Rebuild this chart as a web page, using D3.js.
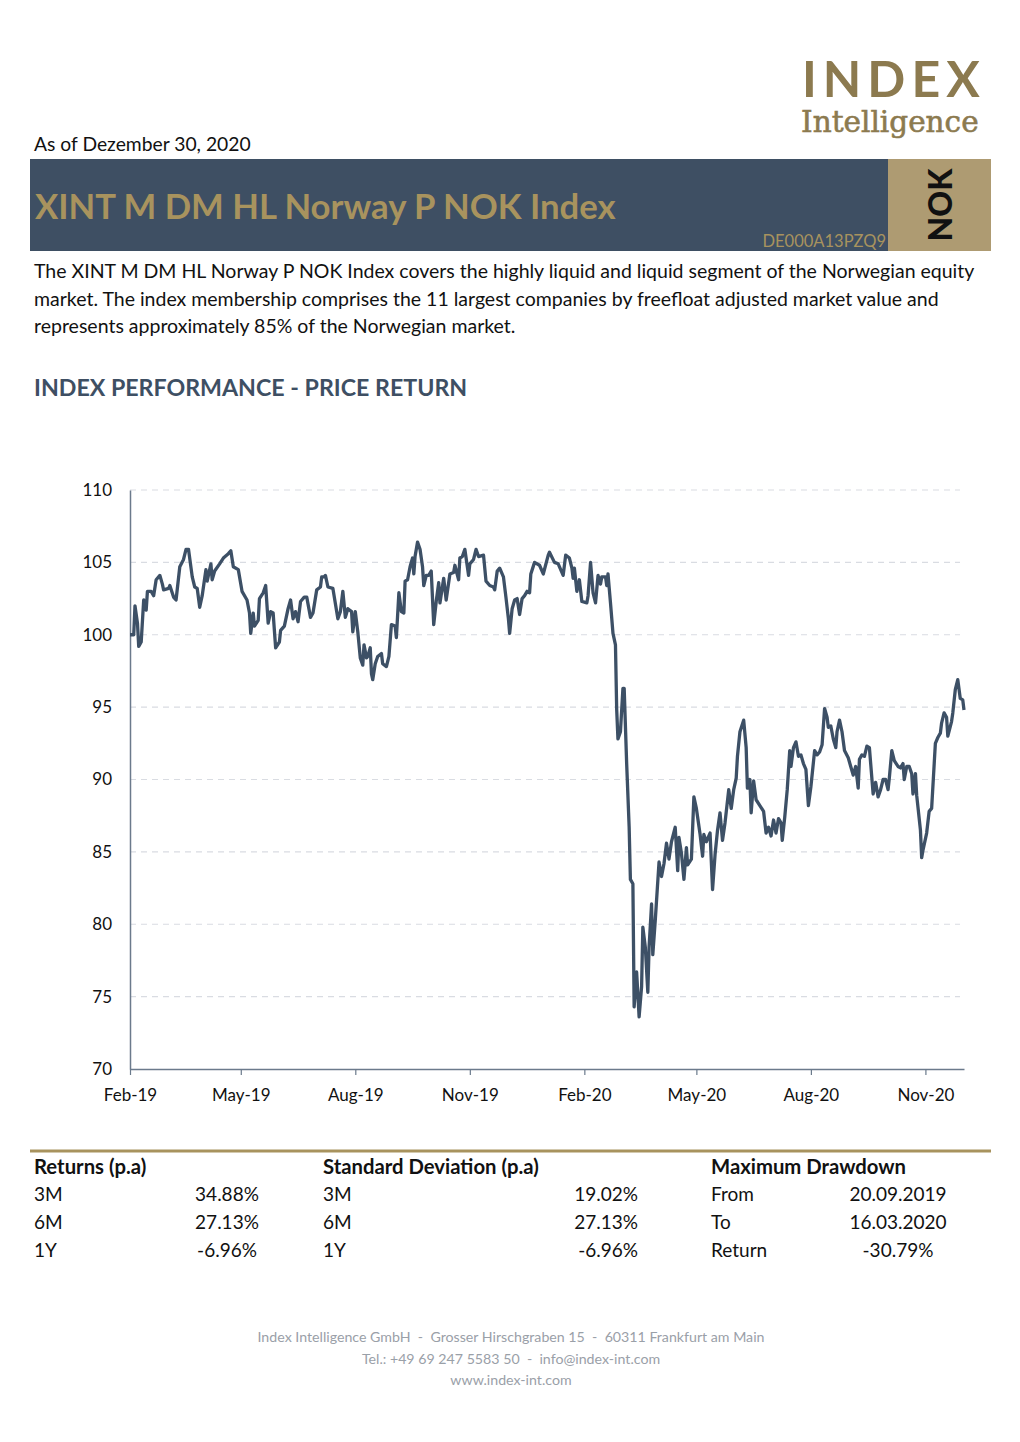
<!DOCTYPE html>
<html><head><meta charset="utf-8">
<script src="https://cdn.jsdelivr.net/npm/d3@7"></script>
<style>
html,body{margin:0;padding:0;background:#fff;}
svg{display:block;font-family:Lato,"Open Sans",sans-serif;}
</style></head>
<body>
<svg id="page" width="1020" height="1442"></svg>
<script>
// ---------- DATA ----------
const dates = ["2019-02-01","2019-02-04","2019-02-05","2019-02-07","2019-02-08","2019-02-10","2019-02-12","2019-02-14","2019-02-15","2019-02-18","2019-02-20","2019-02-22","2019-02-25","2019-02-27","2019-02-28","2019-03-04","2019-03-05","2019-03-08","2019-03-10","2019-03-13","2019-03-16","2019-03-18","2019-03-20","2019-03-23","2019-03-25","2019-03-27","2019-03-29","2019-03-31","2019-04-02","2019-04-03","2019-04-04","2019-04-07","2019-04-08","2019-04-10","2019-04-14","2019-04-17","2019-04-21","2019-04-23","2019-04-25","2019-04-29","2019-05-02","2019-05-06","2019-05-08","2019-05-09","2019-05-11","2019-05-12","2019-05-15","2019-05-16","2019-05-19","2019-05-21","2019-05-23","2019-05-25","2019-05-27","2019-05-29","2019-06-01","2019-06-02","2019-06-05","2019-06-08","2019-06-10","2019-06-12","2019-06-14","2019-06-16","2019-06-18","2019-06-21","2019-06-23","2019-06-26","2019-06-28","2019-07-01","2019-07-04","2019-07-05","2019-07-07","2019-07-08","2019-07-10","2019-07-14","2019-07-18","2019-07-20","2019-07-22","2019-07-24","2019-07-26","2019-07-29","2019-07-30","2019-08-01","2019-08-03","2019-08-05","2019-08-07","2019-08-08","2019-08-10","2019-08-11","2019-08-13","2019-08-14","2019-08-15","2019-08-17","2019-08-19","2019-08-22","2019-08-23","2019-08-26","2019-08-28","2019-08-30","2019-09-02","2019-09-03","2019-09-05","2019-09-07","2019-09-09","2019-09-10","2019-09-12","2019-09-14","2019-09-16","2019-09-17","2019-09-18","2019-09-20","2019-09-22","2019-09-24","2019-09-25","2019-09-27","2019-09-29","2019-10-01","2019-10-03","2019-10-05","2019-10-07","2019-10-08","2019-10-11","2019-10-13","2019-10-16","2019-10-19","2019-10-20","2019-10-23","2019-10-24","2019-10-26","2019-10-28","2019-10-31","2019-11-01","2019-11-04","2019-11-06","2019-11-08","2019-11-12","2019-11-14","2019-11-17","2019-11-20","2019-11-21","2019-11-23","2019-11-25","2019-11-28","2019-11-30","2019-12-02","2019-12-03","2019-12-05","2019-12-07","2019-12-09","2019-12-11","2019-12-13","2019-12-15","2019-12-17","2019-12-19","2019-12-20","2019-12-23","2019-12-27","2019-12-30","2020-01-03","2020-01-04","2020-01-08","2020-01-11","2020-01-15","2020-01-17","2020-01-20","2020-01-22","2020-01-23","2020-01-24","2020-01-26","2020-01-28","2020-01-30","2020-02-03","2020-02-04","2020-02-06","2020-02-08","2020-02-10","2020-02-12","2020-02-14","2020-02-15","2020-02-18","2020-02-19","2020-02-20","2020-02-22","2020-02-24","2020-02-26","2020-02-27","2020-02-28","2020-03-01","2020-03-03","2020-03-04","2020-03-06","2020-03-08","2020-03-09","2020-03-11","2020-03-12","2020-03-14","2020-03-16","2020-03-18","2020-03-19","2020-03-21","2020-03-23","2020-03-24","2020-03-26","2020-03-27","2020-03-29","2020-04-01","2020-04-03","2020-04-05","2020-04-07","2020-04-09","2020-04-11","2020-04-14","2020-04-16","2020-04-17","2020-04-19","2020-04-21","2020-04-23","2020-04-24","2020-04-27","2020-04-29","2020-05-01","2020-05-04","2020-05-06","2020-05-07","2020-05-09","2020-05-12","2020-05-14","2020-05-16","2020-05-18","2020-05-20","2020-05-22","2020-05-24","2020-05-27","2020-05-29","2020-05-31","2020-06-02","2020-06-03","2020-06-05","2020-06-08","2020-06-10","2020-06-11","2020-06-13","2020-06-14","2020-06-16","2020-06-18","2020-06-21","2020-06-24","2020-06-26","2020-06-28","2020-06-30","2020-07-02","2020-07-04","2020-07-06","2020-07-08","2020-07-09","2020-07-11","2020-07-13","2020-07-15","2020-07-16","2020-07-18","2020-07-20","2020-07-22","2020-07-24","2020-07-26","2020-07-28","2020-07-30","2020-08-01","2020-08-04","2020-08-06","2020-08-08","2020-08-10","2020-08-12","2020-08-14","2020-08-15","2020-08-17","2020-08-19","2020-08-21","2020-08-22","2020-08-24","2020-08-26","2020-08-28","2020-08-31","2020-09-02","2020-09-04","2020-09-06","2020-09-08","2020-09-09","2020-09-11","2020-09-13","2020-09-15","2020-09-17","2020-09-20","2020-09-22","2020-09-24","2020-09-26","2020-09-28","2020-09-30","2020-10-02","2020-10-03","2020-10-05","2020-10-07","2020-10-10","2020-10-12","2020-10-14","2020-10-15","2020-10-17","2020-10-19","2020-10-21","2020-10-22","2020-10-24","2020-10-25","2020-10-28","2020-10-29","2020-10-30","2020-11-02","2020-11-04","2020-11-06","2020-11-09","2020-11-11","2020-11-13","2020-11-14","2020-11-16","2020-11-18","2020-11-19","2020-11-22","2020-11-23","2020-11-25","2020-11-27","2020-11-29","2020-12-01","2020-12-02"];

const values = [100.0,100.0,102.0,100.8,99.2,99.5,102.4,101.7,103.0,103.0,102.7,103.8,104.1,103.5,103.1,103.2,103.4,102.6,102.4,104.7,105.2,105.9,105.9,104.0,103.3,103.2,101.9,102.7,103.9,104.5,103.7,104.9,103.8,104.4,104.9,105.3,105.6,105.8,104.7,104.5,103.0,102.4,101.5,100.1,101.5,100.6,101.0,102.5,102.9,103.4,100.8,101.6,101.5,99.1,99.5,100.3,100.6,101.8,102.4,101.1,101.6,100.9,102.3,102.6,102.6,101.2,101.5,103.1,103.3,104.0,104.0,104.1,103.3,103.2,101.1,101.6,103.0,101.2,101.8,101.6,100.2,101.6,100.2,98.4,97.9,99.3,98.4,98.5,99.1,97.3,96.9,98.0,98.5,98.7,98.0,97.8,98.5,100.7,100.6,99.8,102.9,101.6,101.5,103.7,103.8,104.7,105.3,104.2,105.4,106.4,105.9,104.7,103.4,104.1,104.1,104.4,100.7,102.3,103.6,102.2,103.9,102.4,104.2,104.3,104.8,103.8,105.3,105.4,105.9,104.1,104.9,105.2,105.9,105.4,105.5,103.7,103.4,103.3,103.1,104.4,104.6,104.0,102.6,101.1,100.1,101.8,102.4,102.5,101.4,102.5,102.7,103.0,102.9,104.2,105.0,104.8,104.2,105.5,105.7,105.0,104.9,104.1,105.5,105.3,104.6,103.9,104.6,103.0,103.8,102.3,102.2,102.7,105.0,102.9,102.2,104.1,103.5,104.0,104.0,103.4,104.2,102.2,100.1,99.3,94.8,92.8,93.3,96.3,96.3,91.1,86.7,83.1,82.8,74.3,76.7,73.6,75.7,79.8,78.4,75.3,78.4,81.4,77.9,80.3,84.3,83.3,84.2,85.6,84.5,85.7,86.7,83.7,86.0,84.9,83.1,85.3,84.1,84.5,88.8,88.0,86.2,84.7,86.2,85.7,86.3,82.4,84.8,86.5,87.7,85.8,87.0,89.3,88.0,89.3,90.1,91.6,93.3,94.1,92.2,89.4,90.0,87.7,89.9,88.6,88.2,87.8,86.3,86.7,86.1,87.2,86.3,87.3,87.0,85.8,87.4,89.3,92.0,90.9,92.2,92.6,91.6,91.7,91.1,90.7,88.2,89.5,92.0,91.7,91.9,92.4,94.9,94.3,93.6,93.7,92.8,92.2,93.3,94.1,93.3,92.0,91.5,90.9,90.3,90.9,89.4,91.4,91.7,91.6,92.3,92.2,89.0,89.8,88.8,89.3,90.0,90.0,89.3,90.1,92.0,91.3,90.9,90.8,91.1,90.0,90.9,90.9,90.4,89.0,90.4,88.9,86.5,84.6,85.1,86.3,87.8,88.0,92.5,92.9,93.2,93.9,94.6,94.3,93.0,94.0,94.6,96.2,96.9,95.6,95.5,94.8];

const yTicks = [70,75,80,85,90,95,100,105,110];
const xTickDates = ["2019-02-01","2019-05-01","2019-08-01","2019-11-01","2020-02-01","2020-05-01","2020-08-01","2020-11-01"];

const tableHeaders = ["Returns (p.a)","Standard Deviation (p.a)","Maximum Drawdown"];
const returnsRows = [["3M","34.88%"],["6M","27.13%"],["1Y","-6.96%"]];
const stdRows = [["3M","19.02%"],["6M","27.13%"],["1Y","-6.96%"]];
const drawdownRows = [["From","20.09.2019"],["To","16.03.2020"],["Return","-30.79%"]];

const descLines = [
  "The XINT M DM HL Norway P NOK Index covers the highly liquid and liquid segment of the Norwegian equity",
  "market. The index membership comprises the 11 largest companies by freefloat adjusted market value and",
  "represents approximately 85% of the Norwegian market."
];
const footerLines = [
  "Index Intelligence GmbH  -  Grosser Hirschgraben 15  -  60311 Frankfurt am Main",
  "Tel.: +49 69 247 5583 50  -  info@index-int.com",
  "www.index-int.com"
];

// ---------- STYLE ----------
const slate = "#3E4F63", gold = "#A8935E", goldBox = "#AE9B72", lineColor = "#3D5066";
const svg = d3.select("#page");
const parse = d3.timeParse("%Y-%m-%d");
const fmtMonth = d3.timeFormat("%b-%y");

// Logo
svg.append("text").attr("x", 802).attr("y", 97).attr("fill", "#8C7A4F")
  .attr("font-family", "Lato, sans-serif").attr("font-weight", 700).attr("font-size", 50)
  .attr("letter-spacing", 6).text("INDEX");
svg.append("text").attr("x", 801).attr("y", 132).attr("fill", "#8C7A4F")
  .attr("stroke", "#8C7A4F").attr("stroke-width", 0.6)
  .attr("font-family", "'DejaVu Serif', serif").attr("font-size", 29.5).text("Intelligence");

// As of
svg.append("text").attr("x", 34).attr("y", 151).attr("font-size", 19.3).attr("fill", "#111")
  .text("As of Dezember 30, 2020");

// Header band
svg.append("rect").attr("x", 30).attr("y", 159).attr("width", 858).attr("height", 92).attr("fill", slate);
svg.append("rect").attr("x", 888).attr("y", 159).attr("width", 103).attr("height", 92).attr("fill", goldBox);
svg.append("text").attr("x", 35).attr("y", 219).attr("fill", gold).attr("font-weight", 700)
  .attr("font-size", 34.7).text("XINT M DM HL Norway P NOK Index");
svg.append("text").attr("x", 886).attr("y", 247).attr("fill", gold).attr("font-size", 16.5)
  .attr("text-anchor", "end").text("DE000A13PZQ9");
svg.append("text").attr("transform", "translate(952,205) rotate(-90)").attr("text-anchor", "middle")
  .attr("font-weight", 900).attr("font-size", 32).attr("fill", "#111").text("NOK");

// Description
svg.append("g").selectAll("text").data(descLines).join("text")
  .attr("x", 34).attr("y", (d, i) => 278 + i * 27.5).attr("font-size", 19.5).attr("fill", "#111")
  .text(d => d);

// Section title
svg.append("text").attr("x", 34).attr("y", 396).attr("fill", slate).attr("font-weight", 700)
  .attr("font-size", 23.2).text("INDEX PERFORMANCE - PRICE RETURN");

// ---------- CHART ----------
const series = dates.map((d, i) => ({date: parse(d), value: values[i]}));
const x = d3.scaleTime().domain(d3.extent(series, d => d.date)).range([130, 964]);
const y = d3.scaleLinear().domain([70, 110]).range([1069, 490]);

// grid
svg.append("g").selectAll("line").data(yTicks.filter(v => v > 70)).join("line")
  .attr("x1", 130).attr("x2", 960).attr("y1", d => y(d)).attr("y2", d => y(d))
  .attr("stroke", "#D9DCE2").attr("stroke-width", 1.2).attr("stroke-dasharray", "6,5");

// y axis
const yAxis = svg.append("g").attr("transform", "translate(130,0)")
  .call(d3.axisLeft(y).tickValues(yTicks).tickSize(0).tickPadding(18));
yAxis.select(".domain").attr("stroke", "#6B7A8C").attr("stroke-width", 1.5);
yAxis.selectAll("text").attr("font-size", 17).attr("fill", "#111").attr("font-family", "Lato, sans-serif");

// x axis
const xAxis = svg.append("g").attr("transform", "translate(0,1069)")
  .call(d3.axisBottom(x).tickValues(xTickDates.map(parse)).tickFormat(fmtMonth).tickSize(6).tickSizeOuter(0).tickPadding(14));
xAxis.select(".domain").attr("stroke", "#6B7A8C").attr("stroke-width", 1.5);
xAxis.selectAll(".tick line").attr("stroke", "#6B7A8C").attr("stroke-width", 1.2);
xAxis.selectAll("text").attr("font-size", 17).attr("fill", "#111").attr("font-family", "Lato, sans-serif");

// line
svg.append("path").datum(series).attr("fill", "none").attr("stroke", lineColor)
  .attr("stroke-width", 3.3).attr("stroke-linejoin", "round")
  .attr("d", d3.line().x(d => x(d.date)).y(d => y(d.value)));

// ---------- TABLE ----------
svg.append("rect").attr("x", 30).attr("y", 1149.5).attr("width", 961).attr("height", 3).attr("fill", gold);
const hx = [34, 323, 711];
svg.append("g").selectAll("text").data(tableHeaders).join("text")
  .attr("x", (d, i) => hx[i]).attr("y", 1174).attr("font-weight", 700).attr("font-size", 20.3)
  .attr("fill", "#111").text(d => d);

function rows(data, lx, vx, anchor) {
  const g = svg.append("g");
  g.selectAll("text.l").data(data).join("text").attr("class", "l")
    .attr("x", lx).attr("y", (d, i) => 1201 + i * 28).attr("font-size", 19).attr("fill", "#111").text(d => d[0]);
  g.selectAll("text.v").data(data).join("text").attr("class", "v")
    .attr("x", vx).attr("y", (d, i) => 1201 + i * 28).attr("font-size", 19).attr("fill", "#111")
    .attr("text-anchor", anchor).text(d => d[1]);
}
rows(returnsRows, 34, 227, "middle");
rows(stdRows, 323, 638, "end");
rows(drawdownRows, 711, 898, "middle");

// ---------- FOOTER ----------
svg.append("g").selectAll("text").data(footerLines).join("text")
  .attr("x", 511).attr("y", (d, i) => 1342 + i * 21.5).attr("text-anchor", "middle")
  .attr("font-size", 14.2).attr("fill", "#9AA0A8").attr("xml:space", "preserve")
  .style("white-space", "pre").text(d => d);
</script>
</body></html>
